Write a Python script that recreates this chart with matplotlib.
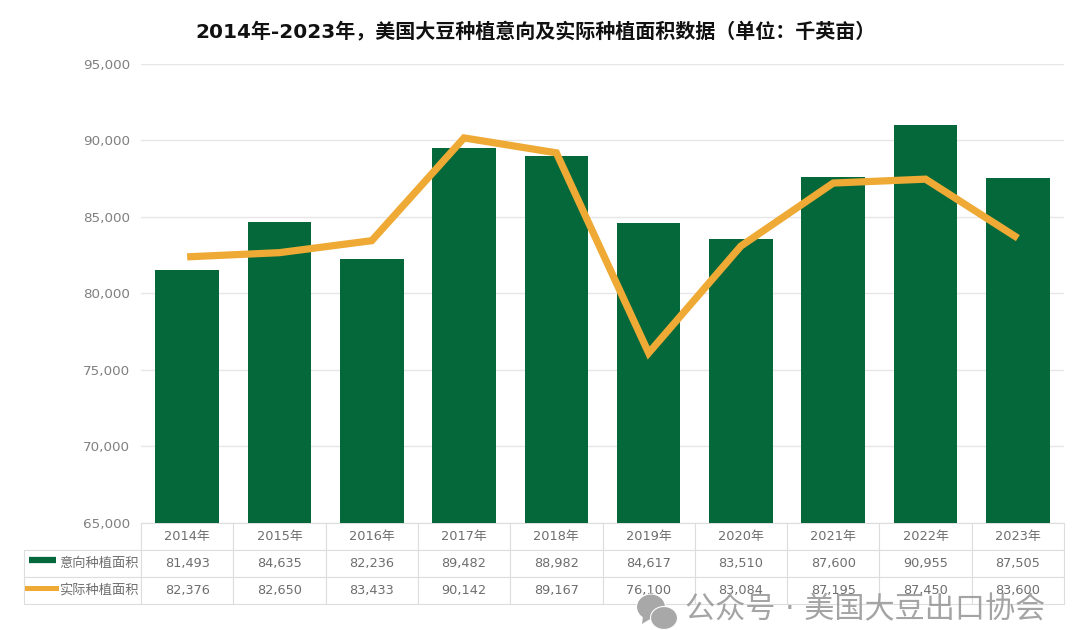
# -*- coding: utf-8 -*-
import matplotlib
matplotlib.use('Agg')
import matplotlib.pyplot as plt
from matplotlib.lines import Line2D
from matplotlib.patches import Ellipse, Polygon

plt.rcParams['font.family'] = ['DejaVu Sans', 'Noto Sans CJK SC']

years = ['2014年', '2015年', '2016年', '2017年', '2018年', '2019年', '2020年', '2021年', '2022年', '2023年']
intended = [81493, 84635, 82236, 89482, 88982, 84617, 83510, 87600, 90955, 87505]
actual = [82376, 82650, 83433, 90142, 89167, 76100, 83084, 87195, 87450, 83600]
series_names = ['意向种植面积', '实际种植面积']
y_ticks = [65000, 70000, 75000, 80000, 85000, 90000, 95000]

GREEN = '#05683a'
ORANGE = '#eeaa35'
GRID = '#e6e6e6'
TEXT = '#6e6e6e'
W, H = 1080, 630

fig = plt.figure(figsize=(W / 100, H / 100), dpi=100, facecolor='white')
ax = fig.add_axes([141 / W, 1 - 523 / H, 923 / W, 459.5 / H])

x = range(len(years))
ax.bar(x, intended, width=0.69, color=GREEN, zorder=2)
ax.plot(x, actual, color=ORANGE, linewidth=5.2, solid_joinstyle='miter', solid_capstyle='butt', zorder=3)

ax.set_xlim(-0.5, 9.5)
ax.set_ylim(65000, 95000)
ax.set_yticks(y_ticks)
ax.set_yticklabels([f'{v:,}' for v in y_ticks], fontsize=9.7, color='#808080')
ax.set_xticks([])
ax.tick_params(axis='y', length=0, pad=8)
ax.grid(True, axis='y', color=GRID, linewidth=1)
ax.set_axisbelow(True)
for side in ax.spines:
    ax.spines[side].set_visible(False)

# 表格 (第一列放图例名称)
label_w = 117 / 923
row_h = 81 / 459.5
cells = [[''] + years,
         [series_names[0]] + [f'{v:,}' for v in intended],
         [series_names[1]] + [f'{v:,}' for v in actual]]
tb = ax.table(cellText=cells, cellLoc='center', colWidths=[label_w] + [0.1] * 10,
              bbox=[-label_w, -row_h, 1 + label_w, row_h])
tb.auto_set_font_size(False)
for (r, c), cell in tb.get_celld().items():
    cell.set_edgecolor('#dddddd')
    cell.set_linewidth(0.8)
    cell.get_text().set_color(TEXT)
    cell.get_text().set_fontsize(9.3)
    if c == 0:
        cell.get_text().set_ha('right')
        cell.PAD = 0.02
        cell._loc = 'right'
        cell.get_text().set_fontsize(9.5)
        if r == 0:
            cell.visible_edges = 'RB'

# 图例色块
fig.add_artist(Line2D([29 / W, 56 / W], [1 - 560 / H] * 2, color=GREEN, linewidth=4.5, solid_capstyle='butt'))
fig.add_artist(Line2D([27 / W, 56 / W], [1 - 588 / H] * 2, color=ORANGE, linewidth=3.6))

fig.text(535.5 / W, 1 - 31 / H, '2014年-2023年，美国大豆种植意向及实际种植面积数据（单位：千英亩）',
         ha='center', va='center', fontsize=14.45, fontweight='bold', color='#111111')

# 水印
fig.text(865 / W, 1 - 610 / H, '公众号 · 美国大豆出口协会', ha='center', va='center',
         fontsize=21.7, color='#9a9a9a', alpha=0.9, zorder=10)
for cx, cy, ew, eh in [(651, 607, 29, 26), (664, 618, 27, 23)]:
    fig.add_artist(Ellipse((cx / W, 1 - cy / H), ew / W, eh / H, facecolor='#a8a8a8', edgecolor='white', linewidth=0.8))
fig.add_artist(Polygon([(643 / W, 1 - 616 / H), (642 / W, 1 - 624 / H), (650 / W, 1 - 619 / H)], closed=True,
                       facecolor='#a8a8a8', edgecolor='none'))

fig.savefig('out.png', dpi=100, facecolor='white')
